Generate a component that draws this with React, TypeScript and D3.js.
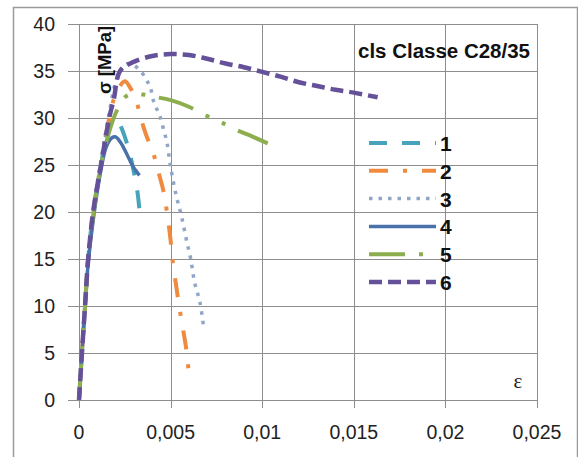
import React, { useRef, useEffect } from 'react';
import * as d3 from 'd3';

// strain / stress pairs, one array per test curve
const curve1 = [[0, 0], [0.00016, 5], [0.00033, 10], [0.0005, 15], [0.00077, 20], [0.0012, 25], [0.0016, 29], [0.0019, 30], [0.0022, 29.4], [0.0025, 28], [0.0028, 26], [0.003, 24.2], [0.0032, 22], [0.0033, 20.2], [0.00337, 18.8]];
const curve2 = [[0, 0], [0.00016, 5], [0.00033, 10], [0.0005, 15], [0.0008, 20], [0.0012, 25], [0.0016, 29.5], [0.002, 32.5], [0.0025, 33.9], [0.0028, 33.2], [0.0031, 32], [0.0034, 29.8], [0.0037, 28], [0.004, 26.6], [0.0043, 24.5], [0.0046, 22.3], [0.0048, 20], [0.005, 17], [0.0051, 15], [0.0053, 12.2], [0.0055, 9.6], [0.0057, 7.3], [0.0059, 4.8], [0.006, 2.5]];
const curve3 = [[0, 0], [0.00016, 5], [0.00033, 10], [0.0005, 15.5], [0.0008, 20.5], [0.0012, 25.5], [0.0016, 30], [0.002, 33.8], [0.0024, 35.5], [0.0027, 35.8], [0.003, 35.6], [0.0034, 34.9], [0.0037, 34], [0.0039, 33.2], [0.0041, 31.6], [0.0044, 30.3], [0.0046, 28.9], [0.0048, 27.4], [0.005, 24.8], [0.0053, 21.8], [0.0056, 19.5], [0.0059, 16.7], [0.0061, 15], [0.0063, 12.6], [0.0066, 10.4], [0.0068, 7.8]];
const curve4 = [[0, 0], [0.00016, 5], [0.00033, 10], [0.0005, 14.5], [0.0008, 19.5], [0.0012, 24.5], [0.0015, 27], [0.0018, 27.9], [0.002, 28], [0.0023, 27.3], [0.0026, 26.2], [0.0029, 25], [0.0031, 24.4], [0.0033, 23.9]];
const curve5 = [[0, 0], [0.00016, 5], [0.00033, 10], [0.0005, 15], [0.0008, 20], [0.0011, 24], [0.0015, 27.5], [0.002, 30.5], [0.0025, 32.2], [0.003, 32.6], [0.0035, 32.5], [0.004, 32.3], [0.005, 31.9], [0.006, 31.2], [0.007, 30.2], [0.0077, 29.6], [0.0085, 28.8], [0.0095, 28], [0.0103, 27.3]];
const curve6 = [[0, 0], [0.00016, 5], [0.00033, 10], [0.0005, 15], [0.00077, 20], [0.0012, 25], [0.00165, 30], [0.0019, 32], [0.00224, 35], [0.0029, 35.9], [0.004, 36.6], [0.005, 36.8], [0.006, 36.7], [0.007, 36.3], [0.008, 35.8], [0.009, 35.4], [0.01, 34.9], [0.011, 34.4], [0.012, 33.8], [0.013, 33.4], [0.014, 33], [0.015, 32.7], [0.0163, 32.2]];

const seriesNames = ["1", "2", "3", "4", "5", "6"];
const xTicks = [0, 0.005, 0.01, 0.015, 0.02, 0.025];
const xTickLabels = ["0", "0,005", "0,01", "0,015", "0,02", "0,025"];
const yTicks = [0, 5, 10, 15, 20, 25, 30, 35, 40];
const title = "cls Classe C28/35";

const curves = [curve1, curve2, curve3, curve4, curve5, curve6];
const lineStyles = [
  { color: "#45a4bb", width: 4, dash: "18 15" },
  { color: "#ef8a3e", width: 4, dash: "19 15 4 15" },
  { color: "#8fa6c6", width: 3.5, dash: "3.5 6" },
  { color: "#4a72aa", width: 3.5, dash: null },
  { color: "#8cae4e", width: 4, dash: "36 14 4 14 4 14" },
  { color: "#65519a", width: 4.5, dash: "13 6" },
];

export default function App() {
  const ref = useRef<SVGSVGElement>(null);

  useEffect(() => {
    const svg = d3.select(ref.current);
    svg.selectAll("*").remove();

    const width = 578;
    const height = 457;
    const plot = { left: 79, right: 537, top: 24, bottom: 400 };
    const font = "'Liberation Sans', Arial, sans-serif";

    svg.append("rect").attr("width", width).attr("height", height).attr("fill", "#fff");
    // outer chart frame
    svg.append("rect")
      .attr("x", 13.5).attr("y", 7.5).attr("width", 564).attr("height", 470)
      .attr("fill", "none").attr("stroke", "#9a9a9a").attr("stroke-width", 1.5);

    const x = d3.scaleLinear().domain([0, 0.025]).range([plot.left, plot.right]);
    const y = d3.scaleLinear().domain([0, 40]).range([plot.bottom, plot.top]);

    // gridlines + tick marks
    const grid = svg.append("g").attr("stroke", "#8d8d8d").attr("stroke-width", 1);
    grid.selectAll("line.h").data(yTicks).enter().append("line")
      .attr("x1", plot.left - 11).attr("x2", plot.right)
      .attr("y1", d => Math.round(y(d)) + 0.5).attr("y2", d => Math.round(y(d)) + 0.5);
    grid.selectAll("line.v").data(xTicks).enter().append("line")
      .attr("x1", d => Math.round(x(d)) + 0.5).attr("x2", d => Math.round(x(d)) + 0.5)
      .attr("y1", plot.top).attr("y2", plot.bottom + 8);

    // tick labels
    svg.append("g").selectAll("text").data(yTicks).enter().append("text")
      .attr("x", 55).attr("y", d => y(d) + 7)
      .attr("text-anchor", "end")
      .attr("font-family", font).attr("font-size", 19.5).attr("fill", "#222")
      .text(d => String(d));
    svg.append("g").selectAll("text").data(xTicks).enter().append("text")
      .attr("x", d => x(d)).attr("y", 439)
      .attr("text-anchor", "middle")
      .attr("font-family", font).attr("font-size", 19.5).attr("fill", "#222")
      .text((d, i) => xTickLabels[i]);

    // curves
    const line = d3.line<number[]>()
      .x(d => x(d[0]))
      .y(d => y(d[1]))
      .curve(d3.curveCatmullRom.alpha(0.5));

    curves.forEach((c, i) => {
      const st = lineStyles[i];
      svg.append("path")
        .attr("d", line(c))
        .attr("fill", "none")
        .attr("stroke", st.color)
        .attr("stroke-width", st.width)
        .attr("stroke-dasharray", st.dash)
        .attr("stroke-linejoin", "round");
    });

    // axis titles
    svg.append("text")
      .attr("transform", "translate(104,60) rotate(-90)")
      .attr("text-anchor", "middle").attr("dominant-baseline", "central")
      .attr("font-family", font).attr("font-size", 18.5).attr("font-weight", "bold").attr("fill", "#111")
      .text("σ [MPa]");
    svg.append("text")
      .attr("x", 518).attr("y", 388)
      .attr("text-anchor", "middle")
      .attr("font-family", "'Liberation Serif', 'Times New Roman', serif").attr("font-size", 21).attr("fill", "#222")
      .text("ε");

    svg.append("text")
      .attr("x", 358).attr("y", 58)
      .attr("font-family", font).attr("font-size", 20).attr("font-weight", "bold").attr("fill", "#111")
      .attr("textLength", 172).attr("lengthAdjust", "spacingAndGlyphs")
      .text(title);

    // legend
    const legend = svg.append("g");
    const rowY = d3.scaleLinear().domain([0, 5]).range([143, 282]);
    seriesNames.forEach((name, i) => {
      const st = lineStyles[i];
      legend.append("line")
        .attr("x1", 369).attr("x2", 436)
        .attr("y1", rowY(i)).attr("y2", rowY(i))
        .attr("stroke", st.color).attr("stroke-width", st.width)
        .attr("stroke-dasharray", st.dash);
      legend.append("text")
        .attr("x", 440).attr("y", rowY(i) + 8)
        .attr("font-family", font).attr("font-size", 21).attr("font-weight", "bold").attr("fill", "#111")
        .text(name);
    });
  }, []);

  return <svg ref={ref} width={578} height={457} style={{ position: 'absolute', left: 0, top: 0 }}></svg>;
}
